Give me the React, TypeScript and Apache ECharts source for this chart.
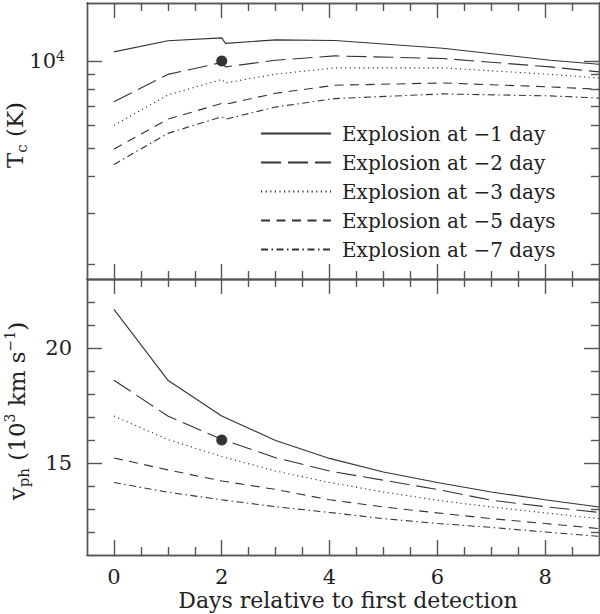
import React, { useEffect, useRef } from 'react';
import * as echarts from 'echarts';

// ---------- data ----------
const SERIES_NAMES = [
  'Explosion at −1 day',
  'Explosion at −2 day',
  'Explosion at −3 days',
  'Explosion at −5 days',
  'Explosion at −7 days',
];

// top panel: colour temperature (K)
const TC_DAYS = [0, 1, 2, 2.07, 3, 4.1, 6.1, 8.1, 9];
const TC_M1 = [10760, 11750, 12020, 11510, 11830, 11780, 11070, 10070, 9750];
const TC_M2 = [7240, 9000, 9890, 9550, 10070, 10420, 10210, 9550, 9180];
const TC_M3 = [6010, 7640, 8650, 8410, 9020, 9480, 9480, 9000, 8750];
const TC_M5 = [4980, 6310, 7150, 7100, 7750, 8260, 8410, 8150, 8000];
const TC_M7 = [4410, 5640, 6430, 6310, 6950, 7430, 7710, 7590, 7460];

// bottom panel: photospheric velocity (10^3 km/s)
const V_DAYS = [0, 1, 2, 3, 4, 5, 6, 7, 8, 9];
const V_M1 = [21.68, 18.6, 17.04, 15.98, 15.2, 14.61, 14.15, 13.74, 13.4, 13.09];
const V_M2 = [18.6, 17.04, 16.03, 15.23, 14.65, 14.25, 13.85, 13.38, 13.1, 12.85];
const V_M3 = [17.04, 16.02, 15.28, 14.65, 14.15, 13.74, 13.38, 13.09, 12.83, 12.58];
const V_M5 = [15.22, 14.7, 14.22, 13.85, 13.4, 13.09, 12.83, 12.58, 12.37, 12.15];
const V_M7 = [14.15, 13.73, 13.4, 13.1, 12.85, 12.58, 12.37, 12.2, 12.0, 11.81];

// observed points
const OBS_DAY = [2];
const OBS_TC = [10000];
const OBS_V = [16];

// axes
const X_MIN = -0.5;
const X_MAX = 9;
const X_MAJOR = [0, 2, 4, 6, 8];
const X_MINOR = [0.5, 1, 1.5, 2.5, 3, 3.5, 4.5, 5, 5.5, 6.5, 7, 7.5, 8.5];
const TC_LOG_MIN = 3.25;
const TC_LOG_MAX = 4.2;
const TC_MAJOR = [10000];
const TC_MINOR = [2000, 3000, 4000, 5000, 6000, 7000, 8000, 9000];
const V_MIN = 11;
const V_MAX = 23;
const V_MAJOR = [15, 20];
const V_MINOR = [12, 13, 14, 16, 17, 18, 19, 21, 22];

// ---------- styles ----------
const FONT = '"DejaVu Serif", "Liberation Serif", serif';
const AXIS_COLOR = '#555';
const LINE_COLOR = '#333';
const TEXT_COLOR = '#222';
const DASHES: any[] = ['solid', [20, 7], [1.2, 3.4], [9, 6.5], [7, 3.5, 1.5, 3.5]];

const axisLineStyle = { color: AXIS_COLOR, width: 1.4 };

function xAxis(gridIndex: number, position: string, ticks: number[], length: number, extra: any = {}) {
  return {
    type: 'value',
    gridIndex,
    position,
    min: X_MIN,
    max: X_MAX,
    axisLine: { show: true, onZero: false, lineStyle: axisLineStyle },
    axisTick: { show: true, inside: true, length, customValues: ticks, lineStyle: axisLineStyle },
    axisLabel: { show: false },
    splitLine: { show: false },
    ...extra,
  };
}

function yAxis(gridIndex: number, position: string, min: number, max: number, ticks: number[], length: number, extra: any = {}) {
  return {
    type: 'value',
    gridIndex,
    position,
    min,
    max,
    axisLine: { show: true, onZero: false, lineStyle: axisLineStyle },
    axisTick: { show: true, inside: true, length, customValues: ticks, lineStyle: axisLineStyle },
    axisLabel: { show: false },
    splitLine: { show: false },
    ...extra,
  };
}

const MAJOR_LEN = 15;
const MINOR_LEN = 8;

export default function App() {
  const ref = useRef<HTMLDivElement>(null);

  useEffect(() => {
    if (!ref.current) return;
    const chart = echarts.init(ref.current, undefined, { renderer: 'svg' });

    const tcLogMajor = TC_MAJOR.map((v) => Math.log10(v));
    const tcLogMinor = TC_MINOR.map((v) => Math.log10(v));

    const tcSets = [TC_M1, TC_M2, TC_M3, TC_M5, TC_M7];
    const vSets = [V_M1, V_M2, V_M3, V_M5, V_M7];

    const series: any[] = [];
    tcSets.forEach((arr, k) => {
      series.push({
        type: 'line',
        name: SERIES_NAMES[k],
        xAxisIndex: 0,
        yAxisIndex: 0,
        data: TC_DAYS.map((d, i) => [d, Math.log10(arr[i])]),
        symbol: 'none',
        color: LINE_COLOR,
        lineStyle: { color: LINE_COLOR, width: 1.1, type: DASHES[k], cap: 'butt' },
        silent: true,
      });
    });
    vSets.forEach((arr, k) => {
      series.push({
        type: 'line',
        name: SERIES_NAMES[k],
        xAxisIndex: 4,
        yAxisIndex: 4,
        data: V_DAYS.map((d, i) => [d, arr[i]]),
        symbol: 'none',
        color: LINE_COLOR,
        lineStyle: { color: LINE_COLOR, width: 1.1, type: DASHES[k], cap: 'butt' },
        silent: true,
      });
    });
    series.push({
      type: 'scatter',
      name: 'obs-tc',
      xAxisIndex: 0,
      yAxisIndex: 0,
      data: OBS_DAY.map((d, i) => [d, Math.log10(OBS_TC[i])]),
      symbol: 'circle',
      symbolSize: 11,
      itemStyle: { color: '#000' },
      silent: true,
    });
    series.push({
      type: 'scatter',
      name: 'obs-v',
      xAxisIndex: 4,
      yAxisIndex: 4,
      data: OBS_DAY.map((d, i) => [d, OBS_V[i]]),
      symbol: 'circle',
      symbolSize: 11,
      itemStyle: { color: '#000' },
      silent: true,
    });

    const labelBase = { fontFamily: FONT, fontSize: 21, color: TEXT_COLOR };

    const option: any = {
      animation: false,
      backgroundColor: '#fff',
      textStyle: { fontFamily: FONT },
      grid: [
        { left: 87, top: 3, width: 512, height: 276, containLabel: false, outerBoundsMode: 'none' },
        { left: 87, top: 279, width: 512, height: 276, containLabel: false, outerBoundsMode: 'none' },
      ],
      legend: {
        data: SERIES_NAMES,
        orient: 'vertical',
        left: 260,
        top: 119,
        padding: 0,
        itemGap: 0,
        itemWidth: 70,
        itemHeight: 14,
        selectedMode: false,
        itemStyle: { opacity: 0 },
        textStyle: { fontFamily: FONT, fontSize: 20, color: TEXT_COLOR, lineHeight: 17, padding: [0, 0, 12, 6] },
      },
      xAxis: [
        xAxis(0, 'bottom', X_MAJOR, MAJOR_LEN),
        xAxis(0, 'bottom', X_MINOR, MINOR_LEN),
        xAxis(0, 'top', X_MAJOR, MAJOR_LEN),
        xAxis(0, 'top', X_MINOR, MINOR_LEN),
        xAxis(1, 'bottom', X_MAJOR, MAJOR_LEN, {
          axisLabel: {
            show: true,
            customValues: X_MAJOR,
            formatter: (v: number) => String(v),
            margin: 13,
            lineHeight: 17,
            ...labelBase,
          },
          name: 'Days relative to first detection',
          nameLocation: 'middle',
          nameGap: 34,
          nameMoveOverlap: false,
          nameTextStyle: { fontFamily: FONT, fontSize: 22, lineHeight: 22, color: TEXT_COLOR, padding: [0, 0, 0, 10] },
        }),
        xAxis(1, 'bottom', X_MINOR, MINOR_LEN),
        xAxis(1, 'top', X_MAJOR, MAJOR_LEN),
        xAxis(1, 'top', X_MINOR, MINOR_LEN),
      ],
      yAxis: [
        yAxis(0, 'left', TC_LOG_MIN, TC_LOG_MAX, tcLogMajor, MAJOR_LEN, {
          axisLabel: {
            show: true,
            customValues: tcLogMajor,
            formatter: (v: number) => '{b|10}{p|' + Math.round(v) + '}',
            margin: 22,
            rich: {
              b: { fontFamily: FONT, fontSize: 21, color: TEXT_COLOR, lineHeight: 24 },
              p: { fontFamily: FONT, fontSize: 14, color: TEXT_COLOR, lineHeight: 13, verticalAlign: 'top' },
            },
          },
          name: '{m|T}{s|c}{m| (K)}',
          nameLocation: 'middle',
          nameRotate: 90,
          nameGap: 58,
          nameMoveOverlap: false,
          nameTextStyle: {
            padding: [0, 0, 0, 12],
            rich: {
              m: { fontFamily: FONT, fontSize: 23, color: TEXT_COLOR, lineHeight: 28 },
              s: { fontFamily: FONT, fontSize: 15, color: TEXT_COLOR, lineHeight: 15, verticalAlign: 'bottom' },
            },
          },
        }),
        yAxis(0, 'left', TC_LOG_MIN, TC_LOG_MAX, tcLogMinor, MINOR_LEN),
        yAxis(0, 'right', TC_LOG_MIN, TC_LOG_MAX, tcLogMajor, MAJOR_LEN),
        yAxis(0, 'right', TC_LOG_MIN, TC_LOG_MAX, tcLogMinor, MINOR_LEN),
        yAxis(1, 'left', V_MIN, V_MAX, V_MAJOR, MAJOR_LEN, {
          axisLabel: {
            show: true,
            customValues: V_MAJOR,
            formatter: (v: number) => String(v),
            margin: 15,
            ...labelBase,
          },
          name: '{m|v}{s|ph}{m| (10}{p|3}{m| km s}{p|−1}{m|)}',
          nameLocation: 'middle',
          nameRotate: 90,
          nameGap: 56,
          nameMoveOverlap: false,
          nameTextStyle: {
            padding: [0, 0, 0, 12],
            rich: {
              m: { fontFamily: FONT, fontSize: 23, color: TEXT_COLOR, lineHeight: 28 },
              s: { fontFamily: FONT, fontSize: 15, color: TEXT_COLOR, lineHeight: 15, verticalAlign: 'bottom' },
              p: { fontFamily: FONT, fontSize: 14, color: TEXT_COLOR, lineHeight: 14, verticalAlign: 'top' },
            },
          },
        }),
        yAxis(1, 'left', V_MIN, V_MAX, V_MINOR, MINOR_LEN),
        yAxis(1, 'right', V_MIN, V_MAX, V_MAJOR, MAJOR_LEN),
        yAxis(1, 'right', V_MIN, V_MAX, V_MINOR, MINOR_LEN),
      ],
      series,
    };

    chart.setOption(option);
    return () => {
      chart.dispose();
    };
  }, []);

  return (
    <div
      ref={ref}
      style={{ position: 'fixed', left: 0, top: 0, width: 600, height: 614, background: '#fff' }}
    />
  );
}
